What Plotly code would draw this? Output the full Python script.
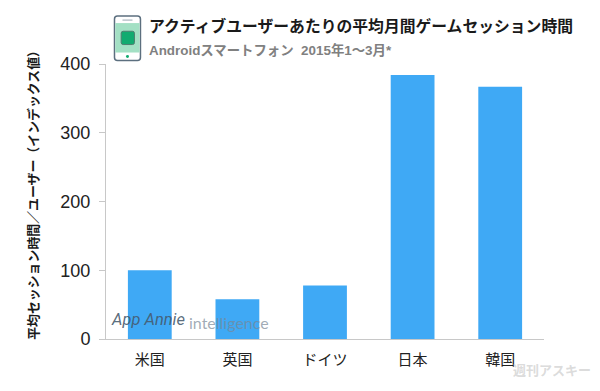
import plotly.graph_objects as go

categories = ["米国", "英国", "ドイツ", "日本", "韓国"]
values = [100, 58, 78, 384, 367]
y_ticks = [0, 100, 200, 300, 400]

# The page has an 8px body margin, so the figure is 8px smaller and everything is offset
OFF = 8
W, H = 600 - OFF, 391 - OFF
L, R, T, B = 105.5 - OFF, 56, 63.5 - OFF, 52
FONT = "Liberation Sans, Noto Sans CJK JP, sans-serif"


def px(x):
    return (x - OFF - L) / (W - L - R)


def py(y):
    return (H - B - (y - OFF)) / (H - T - B)


def rect(x0, y0, x1, y1, **kw):
    return dict(type="rect", xref="paper", yref="paper", layer="above",
                x0=px(x0), x1=px(x1), y0=py(y0), y1=py(y1), **kw)


def paper_round_rect(x0, y0, x1, y1, r, **kw):
    rx, ry = abs(px(x0 + r) - px(x0)), abs(py(y0 + r) - py(y0))
    a, b, c, d = px(x0), px(x1), py(y0), py(y1)
    path = (
        f"M {a + rx} {c} L {b - rx} {c} Q {b} {c} {b} {c - ry} "
        f"L {b} {d + ry} Q {b} {d} {b - rx} {d} "
        f"L {a + rx} {d} Q {a} {d} {a} {d + ry} "
        f"L {a} {c - ry} Q {a} {c} {a + rx} {c} Z"
    )
    return dict(type="path", xref="paper", yref="paper", layer="above", path=path, **kw)


def label(x, y, text, size, color, anchor="left", family=FONT, **kw):
    return dict(xref="paper", yref="paper", x=px(x), y=py(y), text=text,
                showarrow=False, xanchor=anchor, yanchor="middle",
                font=dict(size=size, color=color, family=family), **kw)


fig = go.Figure(go.Bar(x=categories, y=values, marker=dict(color="#3FA9F5", line=dict(width=0)), width=0.5))

shapes = [
    paper_round_rect(114, 15.5, 140, 60, 3, fillcolor="#FFFFFF", line=dict(color="#5C6F7F", width=1.5)),
    rect(114.8, 22.5, 139.2, 52, fillcolor="#A3E0C4", line=dict(width=0)),
    paper_round_rect(120.7, 30.7, 134, 44, 2, fillcolor="#12AB70", line=dict(color="#4F7F70", width=1)),
    dict(type="line", xref="paper", yref="paper", x0=px(122), x1=px(132), y0=py(19.5), y1=py(19.5),
         line=dict(color="#9AA7B2", width=1)),
    dict(type="circle", xref="paper", yref="paper", x0=px(125.5), x1=px(128.5), y0=py(54.5), y1=py(57.5),
         fillcolor="#12AB70", line=dict(width=0)),
]

annotations = [
    label(146.5, 25.5, "<b>アクティブユーザーあたりの平均月間ゲームセッション時間</b>", 15.8, "#1A1A1A"),
    label(146.5, 49.5, "<b>Androidスマートフォン  2015年1～3月*</b>", 13.4, "#808080"),
    label(33, 192, "<b>平均セッション時間／ユーザー（インデックス値）</b>", 12.9, "#1A1A1A", anchor="center", textangle=-90),
    label(109, 319, "<i>App Annie</i>", 16.5, "rgba(70,90,110,0.9)", family="Roboto, Liberation Sans"),
    label(187, 322, "intelligence", 16, "rgba(120,135,150,0.7)", family="Lato, Open Sans, sans-serif"),
    label(552, 371, "<b>週刊アスキー</b>", 13, "rgba(215,215,215,0.9)", anchor="center"),
]

fig.update_layout(
    width=W, height=H, autosize=False,
    margin=dict(l=L, r=R, t=T, b=B, pad=0),
    paper_bgcolor="#FFFFFF", plot_bgcolor="#FFFFFF",
    showlegend=False, font=dict(family=FONT, color="#222222"),
    shapes=shapes, annotations=annotations,
    xaxis=dict(showgrid=False, showline=True, linecolor="#C8C8C8", linewidth=1,
               ticks="", tickfont=dict(size=15, color="#222222"), ticklabelstandoff=7),
    yaxis=dict(range=[0, 400], tickvals=y_ticks, showgrid=False, zeroline=False,
               showline=True, linecolor="#C8C8C8", linewidth=1,
               ticks="outside", ticklen=6, tickcolor="#C8C8C8", ticklabelstandoff=5,
               tickfont=dict(size=18, color="#222222")),
)

fig.write_html("out.html")
